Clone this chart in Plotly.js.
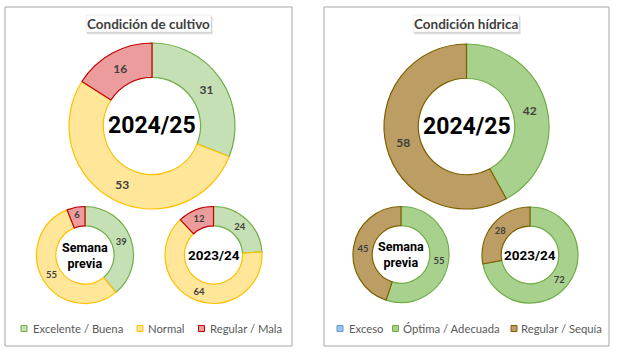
<!DOCTYPE html>
<html>
<head>
<meta charset="utf-8">
<script src="https://cdn.plot.ly/plotly-3.0.1.min.js"></script>
<style>html,body{margin:0;padding:0;background:#fff;}#chart{width:620px;height:353px;}</style>
</head>
<body>
<div id="chart"></div>
<script>
// ---- Data ----
const cultivoCategories = ['Excelente / Buena', 'Normal', 'Regular / Mala'];
const cultivoActual = [31, 53, 16];      // 2024/25
const cultivoSemanaPrevia = [39, 55, 6];
const cultivoAnterior = [24, 64, 12];    // 2023/24

const hidricaCategories = ['Exceso', 'Óptima / Adecuada', 'Regular / Sequía'];
const hidricaActual = [0, 42, 58];       // 2024/25
const hidricaSemanaPrevia = [0, 55, 45];
const hidricaAnterior = [0, 72, 28];     // 2023/24

const panelTitles = ['Condición de cultivo', 'Condición hídrica'];
const centerLabels = ['2024/25', 'Semana<br>previa', '2023/24'];

// ---- Styles ----
const W = 620, H = 353;
const cultivoFill = ['#c5e0b4', '#ffe699', '#ec9c9c'];
const cultivoLine = ['#70ad47', '#ffc000', '#c00000'];
const hidricaFill = ['#9dc3e6', '#a9d18e', '#bc9d63'];
const hidricaLine = ['#5b9bd5', '#70ad47', '#7f6000'];
const labelFont = 'Lato, "Open Sans", sans-serif';
const bigFont = 'Roboto, "DejaVu Sans", sans-serif';

function px(x) { return x / W; }
function py(y) { return 1 - y / H; }
function dom(cx, cy, r) { return {x: [px(cx - r), px(cx + r)], y: [py(cy + r), py(cy - r)]}; }

function donut(labels, values, fills, lines, d, hole, fs) {
  return {
    type: 'pie', labels: labels, values: values,
    text: values.map(v => v > 0 ? String(v) : ''),
    textinfo: 'text', textposition: 'inside', insidetextorientation: 'horizontal',
    textfont: {family: labelFont, size: fs, color: '#404040', weight: 'bold'},
    domain: d, hole: hole, sort: false, direction: 'clockwise', rotation: 0,
    marker: {colors: fills, line: {color: lines, width: 1.2}},
    showlegend: false, hoverinfo: 'none'
  };
}

const data = [
  donut(cultivoCategories, cultivoActual, cultivoFill, cultivoLine, dom(152, 126, 83), 0.585, 12),
  donut(cultivoCategories, cultivoSemanaPrevia, cultivoFill, cultivoLine, dom(85, 255, 48.5), 0.6, 9.5),
  donut(cultivoCategories, cultivoAnterior, cultivoFill, cultivoLine, dom(213.5, 255, 48.5), 0.6, 9.5),
  donut(hidricaCategories, hidricaActual, hidricaFill, hidricaLine, dom(466.5, 126.5, 82.5), 0.585, 12),
  donut(hidricaCategories, hidricaSemanaPrevia, hidricaFill, hidricaLine, dom(401, 254.5, 48), 0.6, 9.5),
  donut(hidricaCategories, hidricaAnterior, hidricaFill, hidricaLine, dom(530, 255, 48), 0.6, 9.5)
];

const shapes = [];
const annotations = [];

// panel borders
[[5, 292], [324, 609]].forEach(([x0, x1]) => {
  shapes.push({type: 'rect', xref: 'paper', yref: 'paper', x0: px(x0), x1: px(x1), y0: py(346), y1: py(7),
    line: {color: '#a6a6a6', width: 1}, fillcolor: 'rgba(0,0,0,0)', layer: 'below'});
});

// title boxes with shadow
const titleBoxes = [[86, 211], [413, 519]];
titleBoxes.forEach(([x0, x1], i) => {
  shapes.push({type: 'rect', xref: 'paper', yref: 'paper', x0: px(x0 + 1), x1: px(x1 + 2), y0: py(34.5), y1: py(17),
    line: {width: 0}, fillcolor: 'rgba(0,0,0,0.07)'});
  shapes.push({type: 'rect', xref: 'paper', yref: 'paper', x0: px(x0 + 0.5), x1: px(x1 + 1), y0: py(33.5), y1: py(16),
    line: {width: 0}, fillcolor: 'rgba(0,0,0,0.12)'});
  shapes.push({type: 'rect', xref: 'paper', yref: 'paper', x0: px(x0), x1: px(x1), y0: py(32), y1: py(15),
    line: {color: '#e0e0e0', width: 0.6}, fillcolor: '#ffffff'});
  annotations.push({xref: 'paper', yref: 'paper', x: px((x0 + x1) / 2), y: py(23.5), text: panelTitles[i],
    showarrow: false, xanchor: 'center', yanchor: 'middle',
    font: {family: labelFont, size: 13.5, color: '#404040', weight: 'bold'}});
});

// center labels
const centers = [
  [[152, 126], [85, 255], [213.5, 255]],
  [[466.5, 126.5], [401, 254.5], [530, 255]]
];
const centerSizes = [23, 12.5, 13.5];
centers.forEach(panel => panel.forEach(([cx, cy], j) => {
  annotations.push({xref: 'paper', yref: 'paper', x: px(cx), y: py(cy), text: centerLabels[j],
    showarrow: false, xanchor: 'center', yanchor: 'middle',
    font: {family: bigFont, size: centerSizes[j], color: '#000000', weight: 'bold'}});
}));

// legends
const legendY = 328.5;
function legendItem(sqX, txtX, label, fill, line) {
  shapes.push({type: 'rect', xref: 'paper', yref: 'paper', x0: px(sqX), x1: px(sqX + 6), y0: py(legendY + 3), y1: py(legendY - 3),
    line: {color: line, width: 1}, fillcolor: fill});
  annotations.push({xref: 'paper', yref: 'paper', x: px(txtX - 1), y: py(legendY), text: label,
    showarrow: false, xanchor: 'left', yanchor: 'middle',
    font: {family: labelFont, size: 11.3, color: '#595959'}});
}
const leftLegendPos = [[21, 32], [137, 147], [198.5, 208.5]];
cultivoCategories.forEach((c, i) => legendItem(leftLegendPos[i][0], leftLegendPos[i][1], c, cultivoFill[i], cultivoLine[i]));
const rightLegendPos = [[337, 348], [392.5, 402], [511, 519.5]];
hidricaCategories.forEach((c, i) => legendItem(rightLegendPos[i][0], rightLegendPos[i][1], c, hidricaFill[i], hidricaLine[i]));

const layout = {
  width: W, height: H,
  margin: {l: 0, r: 0, t: 0, b: 0},
  paper_bgcolor: '#ffffff', plot_bgcolor: '#ffffff',
  showlegend: false,
  shapes: shapes, annotations: annotations
};

Plotly.newPlot('chart', data, layout, {displayModeBar: false, staticPlot: true});
</script>
</body>
</html>
